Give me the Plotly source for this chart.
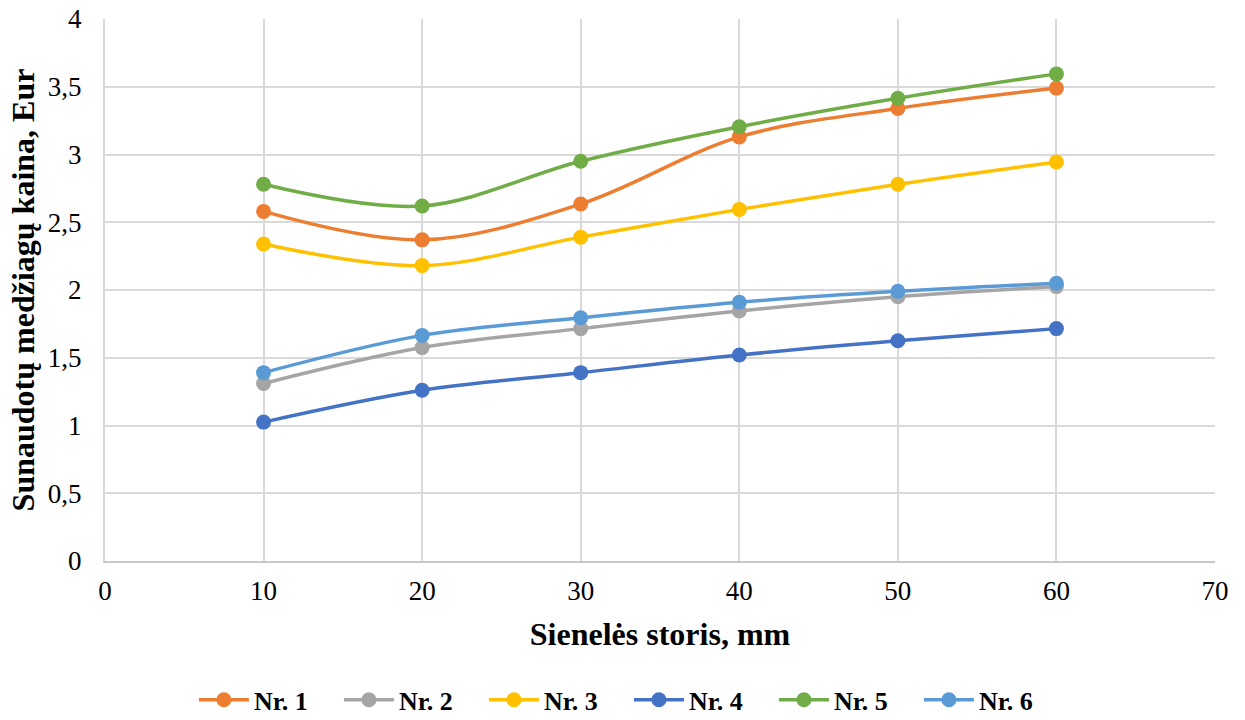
import plotly.graph_objects as go

x_mm = [10, 20, 30, 40, 50, 60]
nr1 = [2.58, 2.37, 2.635, 3.13, 3.34, 3.49]
nr2 = [1.31, 1.575, 1.715, 1.845, 1.95, 2.025]
nr3 = [2.34, 2.18, 2.39, 2.595, 2.78, 2.945]
nr4 = [1.025, 1.26, 1.39, 1.52, 1.625, 1.715]
nr5 = [2.78, 2.62, 2.95, 3.205, 3.415, 3.595]
nr6 = [1.39, 1.665, 1.795, 1.91, 1.99, 2.05]

names = ["Nr. 1", "Nr. 2", "Nr. 3", "Nr. 4", "Nr. 5", "Nr. 6"]
series = [nr1, nr2, nr3, nr4, nr5, nr6]
colors = ["#ED7D31", "#A5A5A5", "#FFC000", "#4472C4", "#70AD47", "#5B9BD5"]

fig = go.Figure()
for n, s, c in zip(names, series, colors):
    fig.add_trace(go.Scatter(
        x=x_mm, y=s, name="<b>" + n + "</b>", mode="lines+markers",
        line=dict(color=c, width=3.5, shape="spline", smoothing=1.0),
        marker=dict(color=c, size=15),
    ))

font_family = "Liberation Serif, Times New Roman, serif"
fig.update_layout(
    width=1245, height=720,
    paper_bgcolor="white", plot_bgcolor="white",
    separators=", ",
    font=dict(family=font_family, size=27, color="black"),
    margin=dict(l=105, r=30, t=19, b=159, autoexpand=False),
    xaxis=dict(
        range=[0, 70], dtick=10, tick0=0,
        showgrid=True, gridcolor="#D9D9D9", gridwidth=2,
        showline=True, linecolor="#C8C8C8", linewidth=2,
        zeroline=False, ticks="",
        ticklabelstandoff=5,
        tickfont=dict(size=27, family=font_family),
        title=dict(text="<b>Sienelės storis, mm</b>", font=dict(size=32, family=font_family), standoff=17),
    ),
    yaxis=dict(
        range=[0, 4], dtick=0.5, tick0=0,
        showgrid=True, gridcolor="#D9D9D9", gridwidth=2,
        showline=True, linecolor="#D9D9D9", linewidth=2,
        zeroline=False, ticks="",
        ticklabelstandoff=16,
        tickfont=dict(size=27, family=font_family),
        title=dict(text="<b>Sunaudotų medžiagų kaina, Eur</b>", font=dict(size=32, family=font_family), standoff=4),
    ),
    legend=dict(
        orientation="h", x=0.472, xanchor="center",
        yref="container", y=0.028, yanchor="middle",
        font=dict(size=26, family=font_family),
        itemwidth=50, entrywidth=80, entrywidthmode="pixels",
    ),
    showlegend=True,
)

fig.write_html("out.html")
